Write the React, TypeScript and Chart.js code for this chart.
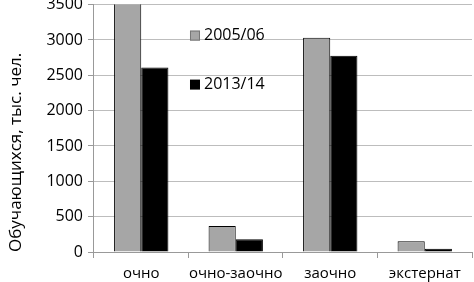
import React, { useEffect, useRef } from "react";
import { Chart, registerables } from "chart.js";
Chart.register(...registerables);

const categories = ["очно", "очно-заочно", "заочно", "экстернат"];
const series2005 = [3600, 367, 3030, 153];
const series2013 = [2610, 180, 2775, 45];
const seriesNames = ["2005/06", "2013/14"];
const yMax = 3500;
const yStep = 500;

const FONT = "'Open Sans', 'DejaVu Sans', sans-serif";

export default function App() {
  const ref = useRef<HTMLCanvasElement>(null);
  useEffect(() => {
    document.body.style.margin = "0";
    const colors = ["#a6a6a6", "#000000"];
    const legendPlugin = {
      id: "inLegend",
      afterDraw(chart: any) {
        const ctx = chart.ctx;
        const x0 = chart.chartArea.left + 96;
        const ys = [chart.chartArea.top + 31, chart.chartArea.top + 80];
        ctx.save();
        ctx.font = `16px ${FONT}`;
        ctx.textBaseline = "middle";
        ys.forEach((y, i) => {
          ctx.fillStyle = colors[i];
          ctx.fillRect(x0, y - 5, 10, 10);
          ctx.strokeStyle = "#777";
          ctx.lineWidth = 1;
          if (i === 0) ctx.strokeRect(x0 + 0.5, y - 4.5, 9, 9);
          ctx.fillStyle = "#000";
          ctx.fillText(seriesNames[i], x0 + 14, y);
        });
        ctx.restore();
      },
    };
    const chart = new Chart(ref.current!, {
      type: "bar",
      data: {
        labels: categories,
        datasets: [
          { label: seriesNames[0], data: series2005, backgroundColor: colors[0], borderColor: "#000", borderWidth: 1 },
          { label: seriesNames[1], data: series2013, backgroundColor: colors[1], borderColor: "#000", borderWidth: 1 },
        ],
      },
      options: {
        animation: false,
        responsive: false,
        maintainAspectRatio: false,
        layout: { padding: { top: 0, right: 2, left: 6, bottom: 0 } },
        datasets: { bar: { barPercentage: 1, categoryPercentage: 0.575 } },
        plugins: { legend: { display: false }, tooltip: { enabled: false } },
        scales: {
          x: {
            grid: { drawOnChartArea: false, drawTicks: true, tickLength: 6, color: "#999", offset: true },
            border: { color: "#999" },
            ticks: { color: "#000", font: { family: FONT, size: 15 }, padding: 7, maxRotation: 0, minRotation: 0, autoSkip: false },
          },
          y: {
            min: 0,
            max: yMax,
            grid: { color: "#bdbdbd", tickLength: 6, tickColor: "#999", drawOnChartArea: true },
            border: { color: "#999" },
            ticks: {
              stepSize: yStep,
              color: "#000",
              font: { family: FONT, size: 16 },
              padding: 5,
              callback: (v: any) => String(v),
            },
            title: { display: true, align: "start", text: "Обучающихся, тыс. чел.", color: "#000", font: { family: FONT, size: 17 }, padding: { top: 0, bottom: 15 } },
          },
        },
      },
      plugins: [legendPlugin],
    });
    return () => chart.destroy();
  }, []);
  return (
    <div style={{ width: 474, height: 282, overflow: "hidden", position: "relative" }}>
      <canvas ref={ref} width={474} height={300} style={{ position: "absolute", top: -10, left: 0 }} />
    </div>
  );
}
